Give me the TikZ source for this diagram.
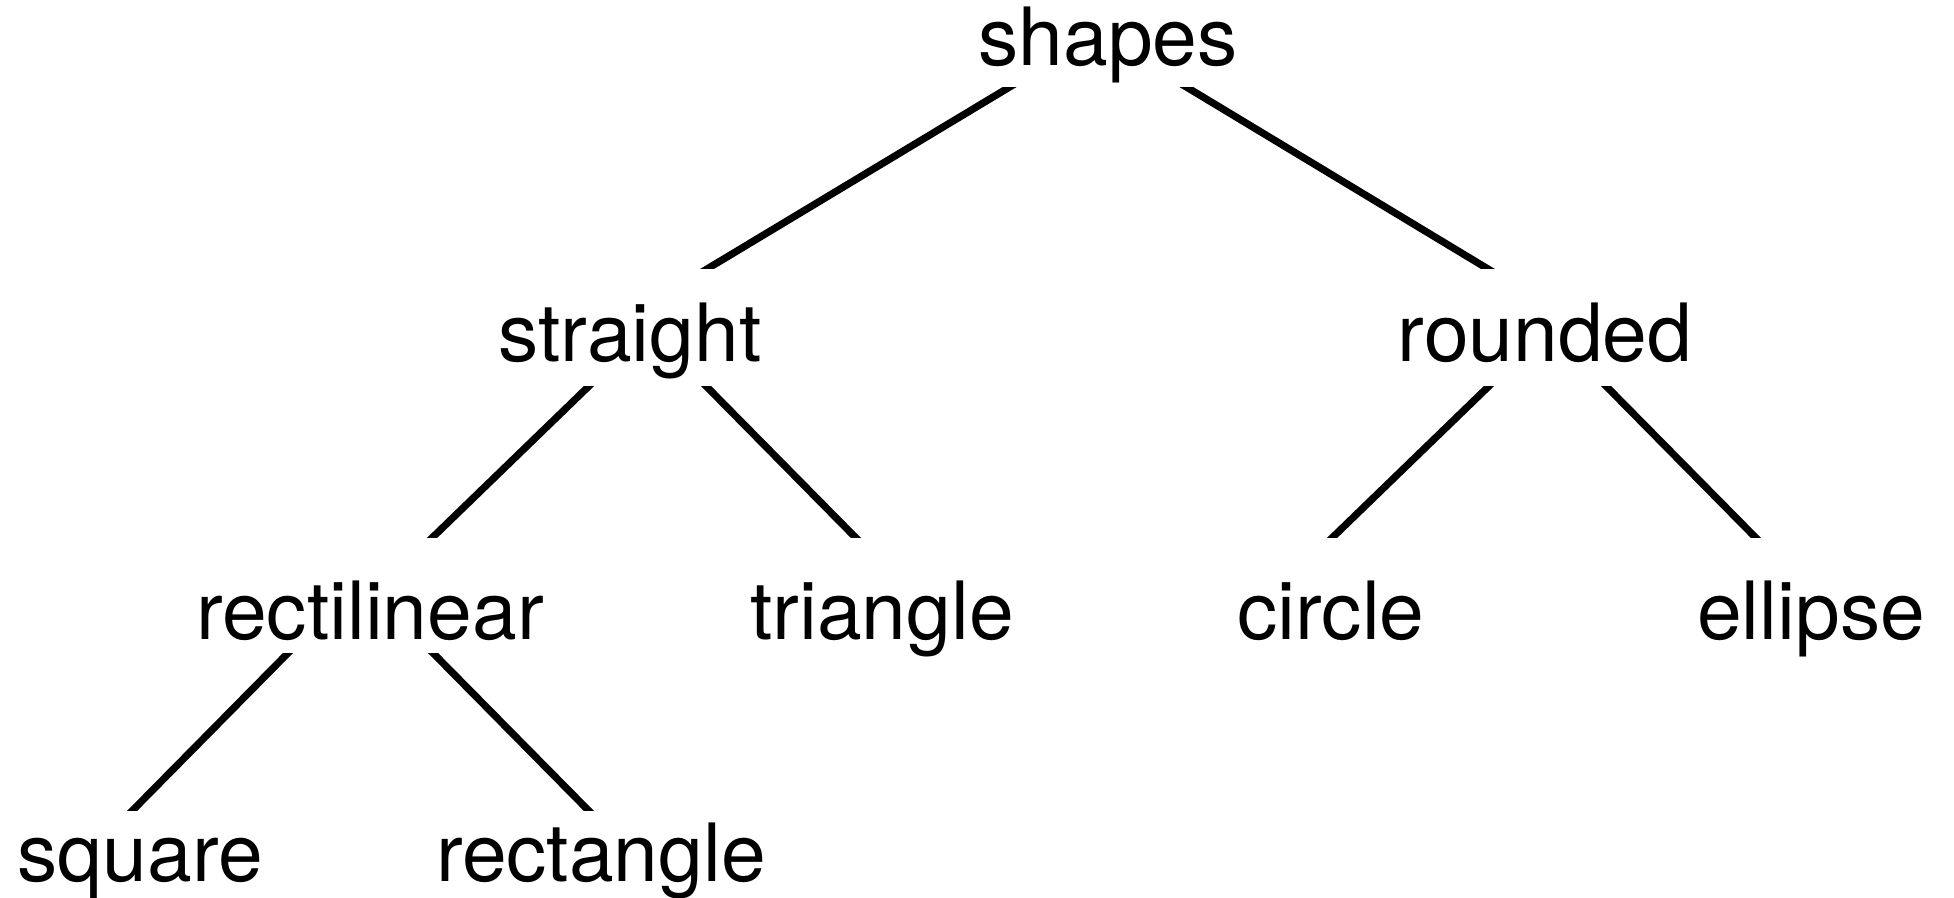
\documentclass[tikz,border=0pt]{standalone}
\usepackage{fontspec}
\setmainfont{TeX Gyre Heros}
\usetikzlibrary{positioning}

\begin{document}
\begin{tikzpicture}[
  x=0.5pt, y=-0.5pt,
  word/.style={anchor=base, inner sep=0pt, font=\fontsize{40.2}{48}\selectfont},
  edge/.style={line width=3.6pt, line cap=butt, shorten <=-6pt, shorten >=-6pt}
]
\useasboundingbox (0,0) rectangle (1954,898);

% levels of the tree
\node[word] (shp) at (1108,66) {shapes};

\node[word] (str) at (630,362) {straight};
\node[word] (rnd) at (1545,362) {rounded};

\node[word] (rect) at (370,639) {rectilinear};
\node[word] (tri) at (882,639) {triangle};
\node[word] (circ) at (1331,639) {circle};
\node[word] (ell) at (1811,639) {ellipse};

\node[word] (sq) at (140,881) {square};
\node[word] (rgl) at (601,881) {rectangle};

% edges, cut flat at each level
\begin{scope}
  \clip (0,88) rectangle (1954,269);
  \draw[edge] ([shift={(-100,22)}]shp.base) -- ([shift={(77,-93)}]str.base);
  \draw[edge] ([shift={(80,22)}]shp.base) -- ([shift={(-57,-93)}]rnd.base);
\end{scope}

\begin{scope}
  \clip (0,387) rectangle (1954,537);
  \draw[edge] ([shift={(-42,25)}]str.base) -- ([shift={(63,-102)}]rect.base);
  \draw[edge] ([shift={(77,25)}]str.base) -- ([shift={(-27,-102)}]tri.base);
  \draw[edge] ([shift={(-57,25)}]rnd.base) -- ([shift={(2,-102)}]circ.base);
  \draw[edge] ([shift={(62,25)}]rnd.base) -- ([shift={(-56,-102)}]ell.base);
\end{scope}

\begin{scope}
  \clip (0,653) rectangle (1954,810);
  \draw[edge] ([shift={(-82,14)}]rect.base) -- ([shift={(-7,-71)}]sq.base);
  \draw[edge] ([shift={(63,14)}]rect.base) -- ([shift={(-13,-71)}]rgl.base);
\end{scope}

\end{tikzpicture}
\end{document}
